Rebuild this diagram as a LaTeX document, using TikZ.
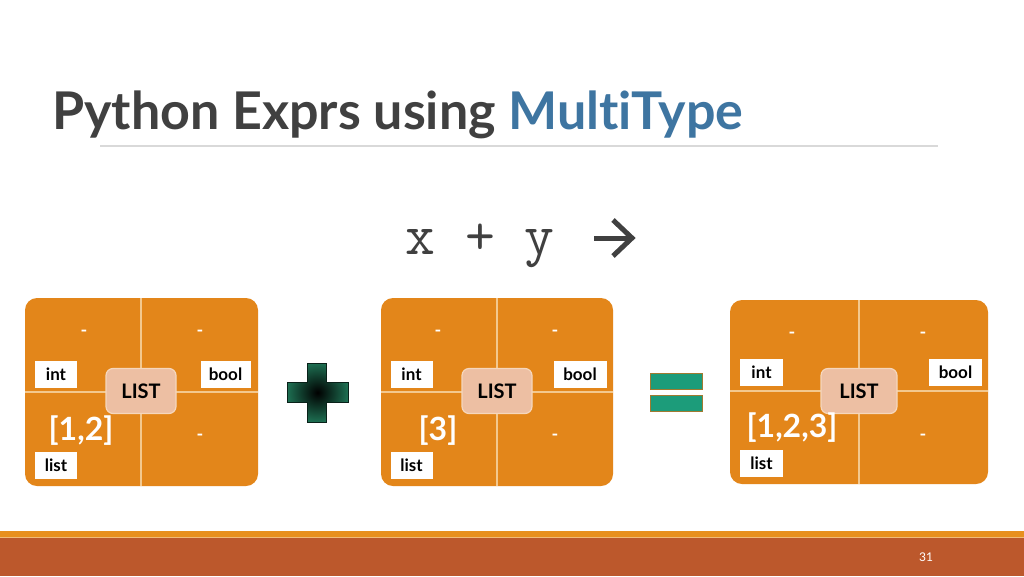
\documentclass[tikz,border=0pt]{standalone}
\usepackage{fontspec}
\setmainfont{Lato}[Ligatures={NoCommon}]
\definecolor{titlegray}{HTML}{404040}
\definecolor{titleblue}{HTML}{3E75A1}
\definecolor{boxorange}{HTML}{E3861A}
\definecolor{divline}{HTML}{F3C88E}
\definecolor{listfill}{HTML}{EDBFA3}
\definecolor{listedge}{HTML}{F6D7BC}
\definecolor{barorange}{HTML}{E8901E}
\definecolor{barred}{HTML}{BC582C}
\definecolor{crossgreen}{HTML}{1E6F52}
\definecolor{eqgreen}{HTML}{1C9C7A}
\definecolor{eqedge}{HTML}{A07A30}
\begin{document}
\begin{tikzpicture}[x=1pt,y=-1pt,
  panel/.style={fill=boxorange,rounded corners=12pt},
  divider/.style={draw=divline,line width=1.6pt},
  typelabel/.style={fill=white,inner sep=0pt,minimum height=27pt,font=\bfseries\fontsize{17}{17}\selectfont,text=black},
  listtag/.style={fill=listfill,draw=listedge,line width=1.2pt,rounded corners=7pt,minimum width=70pt,minimum height=45pt,inner sep=0pt,font=\bfseries\fontsize{20}{20}\selectfont,text=black},
  dashmark/.style={text=white,font=\bfseries\fontsize{18}{18}\selectfont,inner sep=0pt},
  bigval/.style={text=white,font=\bfseries\fontsize{32}{32}\selectfont,inner sep=0pt},
  eqbar/.style={fill=eqgreen,draw=eqedge,line width=1pt}]
\useasboundingbox (0,0) rectangle (1024,576);
\fill[white] (0,0) rectangle (1024,576);
% title
\node[anchor=base west,inner sep=0pt,font=\bfseries\fontsize{52}{52}\selectfont] (title) at (52,129)
  {\textcolor{titlegray}{Python Exprs using }\textcolor{titleblue}{MultiType}};
\draw[draw=black!15,line width=1.2pt] (100,146) -- (938,146);
% expression
\node[inner sep=0pt,anchor=base,font=\ttfamily\fontsize{58}{58}\selectfont,text=titlegray] (expr) at (480,254) {x + y};
\coordinate (arrs) at (594,238);
\coordinate (arre) at (632,238);
\draw[draw=titlegray,line width=5pt] (arrs) -- ([xshift=-3pt]arre);
\draw[draw=titlegray,line width=5pt,line join=miter] ([xshift=-19pt,yshift=-18pt]arre) -- (arre) -- ([xshift=-19pt,yshift=18pt]arre);
% panel 1
\fill[panel] (25,298) rectangle (258,486);
\draw[divider] (141,298) -- (141,486);
\draw[divider] (25,392) -- (258,392);
\node[dashmark] (d11) at (84,333) {-};
\node[dashmark] (d12) at (200,333) {-};
\node[dashmark] (d13) at (200,437) {-};
\node[typelabel,minimum width=42pt] (int1) at (56,374.5) {int};
\node[typelabel,minimum width=50pt] (bool1) at (225.5,374.5) {bool};
\node[typelabel,minimum width=42pt] (lst1) at (56,465.5) {list};
\node[listtag] (tag1) at (141,391) {LIST};
\node[bigval] (v1) at (81,431) {[1,2]};
% panel 2
\fill[panel] (381,298) rectangle (613,486);
\draw[divider] (497,298) -- (497,486);
\draw[divider] (381,392) -- (613,392);
\node[dashmark] (d21) at (438,333) {-};
\node[dashmark] (d22) at (555,333) {-};
\node[dashmark] (d23) at (555,437) {-};
\node[typelabel,minimum width=42pt] (int2) at (411.5,374.5) {int};
\node[typelabel,minimum width=53pt] (bool2) at (580,374.5) {bool};
\node[typelabel,minimum width=42pt] (lst2) at (411.5,465.5) {list};
\node[listtag] (tag2) at (497,391) {LIST};
\node[bigval] (v2) at (438,431) {[3]};
% panel 3
\fill[panel] (730,300) rectangle (988,484);
\draw[divider] (859,300) -- (859,484);
\draw[divider] (730,391) -- (988,391);
\node[dashmark] (d31) at (792,335) {-};
\node[dashmark] (d32) at (923,335) {-};
\node[dashmark] (d33) at (923,437) {-};
\node[typelabel,minimum width=43pt] (int3) at (761.5,372) {int};
\node[typelabel,minimum width=53pt] (bool3) at (955.5,372) {bool};
\node[typelabel,minimum width=43pt] (lst3) at (761.5,463.5) {list};
\node[listtag,minimum width=76pt] (tag3) at (859,391) {LIST};
\node[bigval] (v3) at (792,428) {[1,2,3]};
% plus
\shade[inner color=black,outer color=crossgreen,draw=black!70!crossgreen,line width=0.8pt]
  (307,363) -- (326,363) -- (326,382) -- (348,382) -- (348,402) -- (326,402) -- (326,422)
  -- (307,422) -- (307,402) -- (287,402) -- (287,382) -- (307,382) -- cycle;
% equals
\draw[eqbar] (650,373) rectangle (702,389);
\draw[eqbar] (650,395) rectangle (702,411);
% footer
\fill[barorange] (0,531) rectangle (1024,537);
\fill[barred] (0,537) rectangle (1024,576);
\draw[draw=barorange!60!white,line width=0.6pt] (0,537) -- (1024,537);
\node[text=white,font=\fontsize{12}{12}\selectfont,inner sep=0pt] (pnum) at (926,557) {31};
\end{tikzpicture}
\end{document}
